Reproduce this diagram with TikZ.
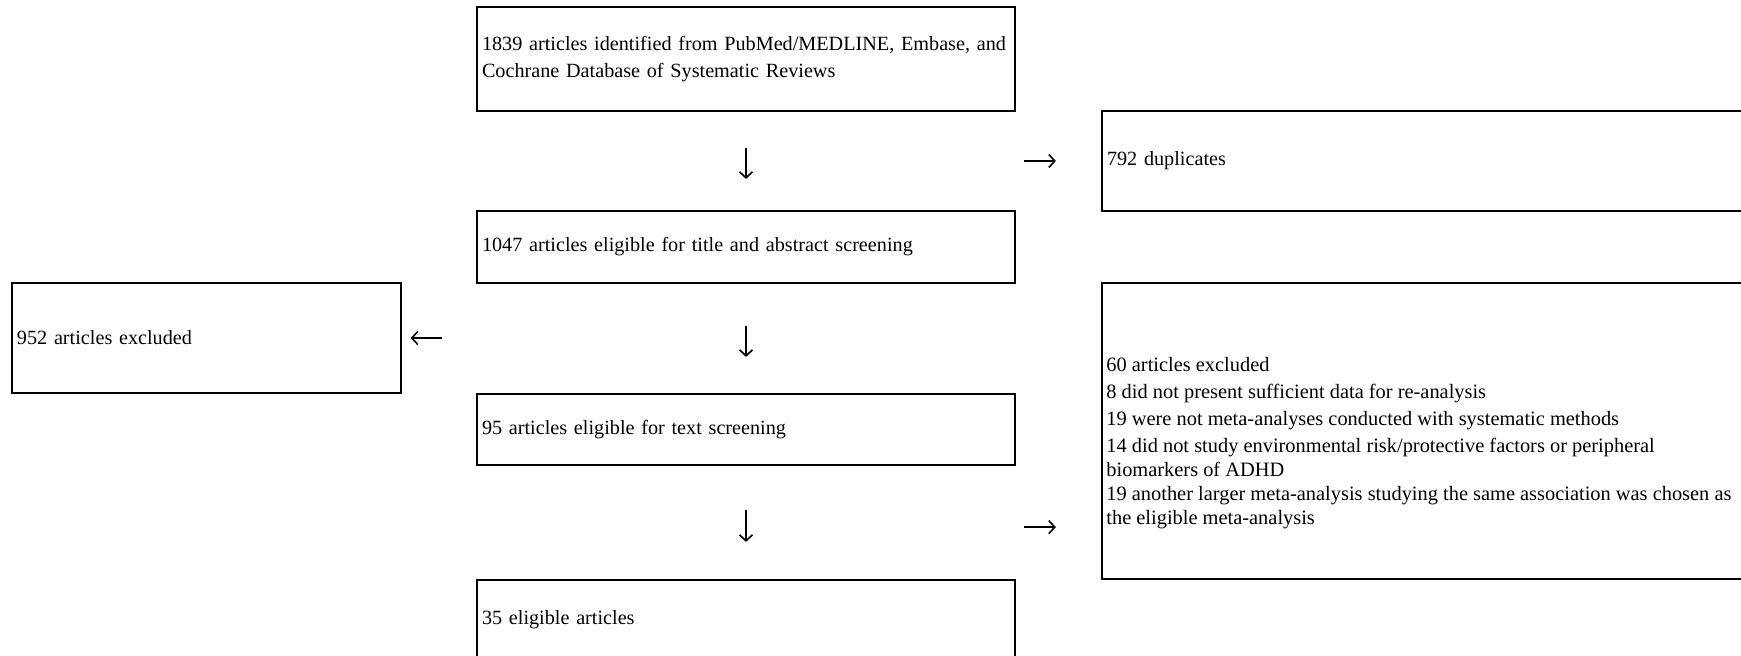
\documentclass[tikz,border=0pt]{standalone}
\usepackage{fontspec}
\setmainfont{Liberation Serif}
\usetikzlibrary{arrows.meta}

\tikzset{
    stage/.style={draw, line width=1.1pt, inner xsep=2.5pt, inner ysep=0pt, align=left,
        font=\fontsize{10.1}{13.35}\selectfont},
    flow/.style={->, line width=0.8pt, >={Straight Barb[length=3pt,width=6.5pt]}},
}

\begin{document}
\begin{tikzpicture}[x=0.5pt, y=-0.5pt]
    \useasboundingbox (0,0) rectangle (1741,655);
    \clip (0,0) rectangle (1741,655);

    % main column
    \node[stage, minimum width=269pt, minimum height=52pt, text width=264pt] (ident) at (746,59)
        {1839 articles identified from PubMed/MEDLINE, Embase, and\\Cochrane Database of Systematic Reviews};
    \node[stage, minimum width=269pt, minimum height=36pt, text width=264pt] (title) at (746,247)
        {1047 articles eligible for title and abstract screening};
    \node[stage, minimum width=269pt, minimum height=35.5pt, text width=264pt] (full) at (746,429.5)
        {95 articles eligible for text screening};
    \node[stage, minimum width=269pt, minimum height=40pt, text width=264pt] (final) at (746,620)
        {35 eligible articles};

    % side boxes
    \node[stage, minimum width=324pt, minimum height=50pt, text width=319pt] (dup) at (1426,161)
        {792 duplicates};
    \node[stage, line width=0.7pt, minimum width=194.5pt, minimum height=55pt, text width=189.5pt] (excl) at (206.5,338)
        {952 articles excluded};
    \node[stage, minimum width=324pt, minimum height=148pt] (reject) at (1426,431) {};
    \node[anchor=base west, inner sep=0pt, align=left, font=\fontsize{10.2}{12}\selectfont] (reasons) at (1106,524)
        {60 articles excluded\\[1.35pt]
         8 did not present sufficient data for re-analysis\\[1.35pt]
         19 were not meta-analyses conducted with systematic methods\\[1.35pt]
         14 did not study environmental risk/protective factors or peripheral\\
         biomarkers of ADHD\\
         19 another larger meta-analysis studying the same association was chosen as\\
         the eligible meta-analysis};
    \coordinate (toreject) at ([yshift=26.5pt]reject.south west);

    % arrows
    \draw[flow, shorten <=18pt, shorten >=15.5pt] (ident.south) -- (title.north);
    \draw[flow, shorten <=21pt, shorten >=18pt] (title.south) -- (full.north);
    \draw[flow, shorten <=22pt, shorten >=18.5pt] (full.south) -- (final.north);
    \draw[flow, shorten <=4pt, shorten >=22.5pt] (dup.west -| ident.east) -- (dup.west);
    \draw[flow, shorten <=17pt, shorten >=4.5pt] (excl.east -| title.west) -- (excl.east);
    \draw[flow, shorten <=4pt, shorten >=22.5pt] (toreject -| ident.east) -- (toreject);
\end{tikzpicture}
\end{document}
